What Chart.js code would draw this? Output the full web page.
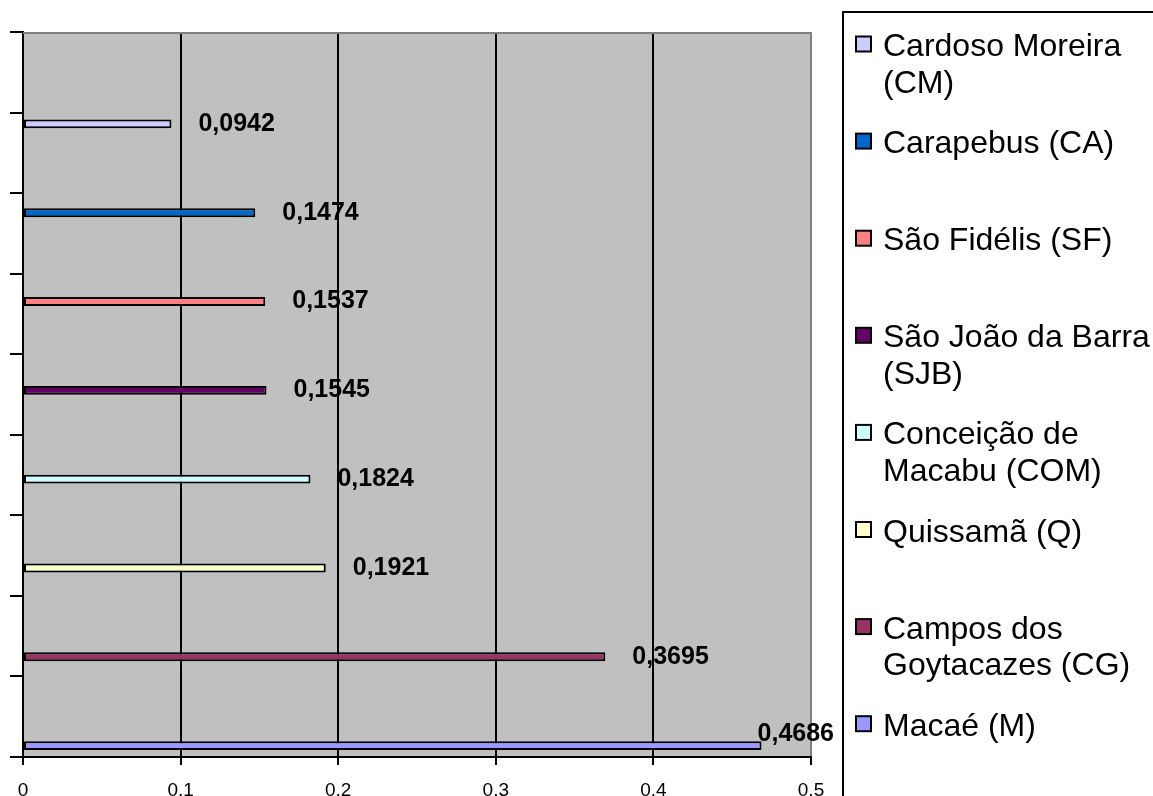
<!DOCTYPE html>
<html>
<head>
<meta charset="utf-8">
<script src="https://cdn.jsdelivr.net/npm/chart.js@4.4.0/dist/chart.umd.min.js"></script>
<style>
  html, body { margin: 0; padding: 0; background: #ffffff; overflow: hidden; }
  #wrap { position: relative; width: 1153px; height: 796px; }
  canvas { display: block; }
</style>
</head>
<body>
<div id="wrap"><canvas id="chart" width="1153" height="796"></canvas></div>
<script>
// Municipalities (series), their values and bar colours
const seriesNames = [
  'Cardoso Moreira (CM)',
  'Carapebus (CA)',
  'São Fidélis (SF)',
  'São João da Barra (SJB)',
  'Conceição de Macabu (COM)',
  'Quissamã (Q)',
  'Campos dos Goytacazes (CG)',
  'Macaé (M)'
];
const seriesValues = [0.0942, 0.1474, 0.1537, 0.1545, 0.1824, 0.1921, 0.3695, 0.4686];
const seriesColors = ['#CCCCFF', '#0066CC', '#FF8080', '#660066', '#CCFFFF', '#FFFFCC', '#993366', '#9999FF'];
const xTickValues = [0, 0.1, 0.2, 0.3, 0.4, 0.5];

const FONT = '"Liberation Sans", Arial, sans-serif';
const GROUP_LEVEL = 4;          // level on the vertical scale where the bar group sits
const commaNum = (v, d) => v.toFixed(d).replace('.', ',');

// Grey plot area and its grey top edge
const plotBackground = {
  id: 'plotBackground',
  beforeDraw(chart) {
    const { ctx, chartArea: a } = chart;
    ctx.save();
    ctx.fillStyle = '#C0C0C0';
    ctx.fillRect(a.left, a.top, a.right - a.left, a.bottom - a.top);
    ctx.restore();
  },
  beforeDatasetsDraw(chart) {
    const { ctx, chartArea: a } = chart;
    ctx.save();
    ctx.strokeStyle = '#808080';
    ctx.lineWidth = 2;
    ctx.beginPath();
    ctx.moveTo(a.left, a.top + 1);
    ctx.lineTo(a.right, a.top + 1);
    ctx.stroke();
    ctx.restore();
  }
};

// Bold value written to the right of each bar
const valueLabels = {
  id: 'valueLabels',
  afterDatasetsDraw(chart) {
    const { ctx, chartArea: a } = chart;
    const limit = a.right + 23;
    ctx.save();
    ctx.font = 'bold 25px ' + FONT;
    ctx.fillStyle = '#000000';
    ctx.textAlign = 'left';
    ctx.textBaseline = 'middle';
    chart.data.datasets.forEach((ds, i) => {
      const bar = chart.getDatasetMeta(i).data[0];
      const text = commaNum(ds.data[0].x, 4);
      const w = ctx.measureText(text).width;
      let x = bar.x + 27;
      let y = bar.y;
      if (x + w > limit) { x = limit - w; y -= 12; }
      ctx.fillText(text, x, y);
    });
    ctx.restore();
  }
};

// Boxed legend on the right, labels wrapped to the box width
const sideLegend = {
  id: 'sideLegend',
  afterDraw(chart) {
    const ctx = chart.ctx;
    const boxLeft = 843, boxTop = 12;
    ctx.save();
    ctx.strokeStyle = '#000000';
    ctx.lineWidth = 2;
    ctx.strokeRect(boxLeft, boxTop, 400, 800);

    ctx.font = '32px ' + FONT;
    ctx.textAlign = 'left';
    ctx.textBaseline = 'alphabetic';
    const textX = 883, maxW = 268, lineH = 36.8;
    const firstBase = 56, step = 97.1;
    chart.data.datasets.forEach((ds, i) => {
      const words = ds.label.split(' ');
      const lines = [];
      let cur = '';
      words.forEach(wd => {
        const t = cur ? cur + ' ' + wd : wd;
        if (cur && ctx.measureText(t).width > maxW) { lines.push(cur); cur = wd; }
        else cur = t;
      });
      if (cur) lines.push(cur);
      const base = firstBase + i * step;
      // swatch
      ctx.fillStyle = ds.backgroundColor;
      ctx.fillRect(856, base - 19.5, 15, 15);
      ctx.strokeStyle = '#000000';
      ctx.lineWidth = 2;
      ctx.strokeRect(856, base - 19.5, 15, 15);
      // text
      ctx.fillStyle = '#000000';
      lines.forEach((ln, k) => ctx.fillText(ln, textX, base + k * lineH));
    });
    ctx.restore();
  }
};

const datasets = seriesNames.map((name, i) => ({
  label: name,
  data: [{ x: seriesValues[i], y: GROUP_LEVEL }],
  backgroundColor: seriesColors[i],
  borderColor: '#000000',
  borderWidth: 2,
  borderSkipped: false,
  categoryPercentage: 8.82,
  barPercentage: 0.1
}));

new Chart(document.getElementById('chart'), {
  type: 'bar',
  data: { datasets },
  options: {
    indexAxis: 'y',
    responsive: false,
    animation: false,
    devicePixelRatio: 1,
    layout: { padding: { left: 10, top: 32, right: 342, bottom: 0 } },
    plugins: {
      legend: { display: false },
      tooltip: { enabled: false },
      title: { display: false }
    },
    scales: {
      x: {
        type: 'linear',
        position: 'bottom',
        min: xTickValues[0],
        max: xTickValues[xTickValues.length - 1],
        z: 1,
        afterBuildTicks: scale => { scale.ticks = xTickValues.map(v => ({ value: v })); },
        afterFit: scale => { scale.height = 39; },
        ticks: {
          callback: v => (v === 0 ? '0' : commaNum(v, 1)),
          color: '#000000',
          font: { family: FONT, size: 19 },
          padding: 14,
          maxRotation: 0,
          autoSkip: false
        },
        grid: {
          color: ctx => (ctx.tick && ctx.tick.value === 0.5 ? '#808080' : '#000000'),
          lineWidth: 2,
          tickColor: '#000000',
          tickWidth: 2,
          tickLength: 8,
          drawTicks: true
        },
        border: { display: true, color: '#000000', width: 2 }
      },
      y: {
        type: 'linear',
        position: 'left',
        min: 0,
        max: 9,
        offset: false,
        afterFit: scale => { scale.width = 13; },
        ticks: { stepSize: 1, display: false },
        grid: {
          offset: false,
          drawOnChartArea: false,
          drawTicks: true,
          tickLength: 13,
          tickColor: '#000000',
          tickWidth: 2,
          color: '#000000',
          lineWidth: 2
        },
        border: { display: true, color: '#000000', width: 2 }
      }
    }
  },
  plugins: [plotBackground, valueLabels, sideLegend]
});
</script>
</body>
</html>
